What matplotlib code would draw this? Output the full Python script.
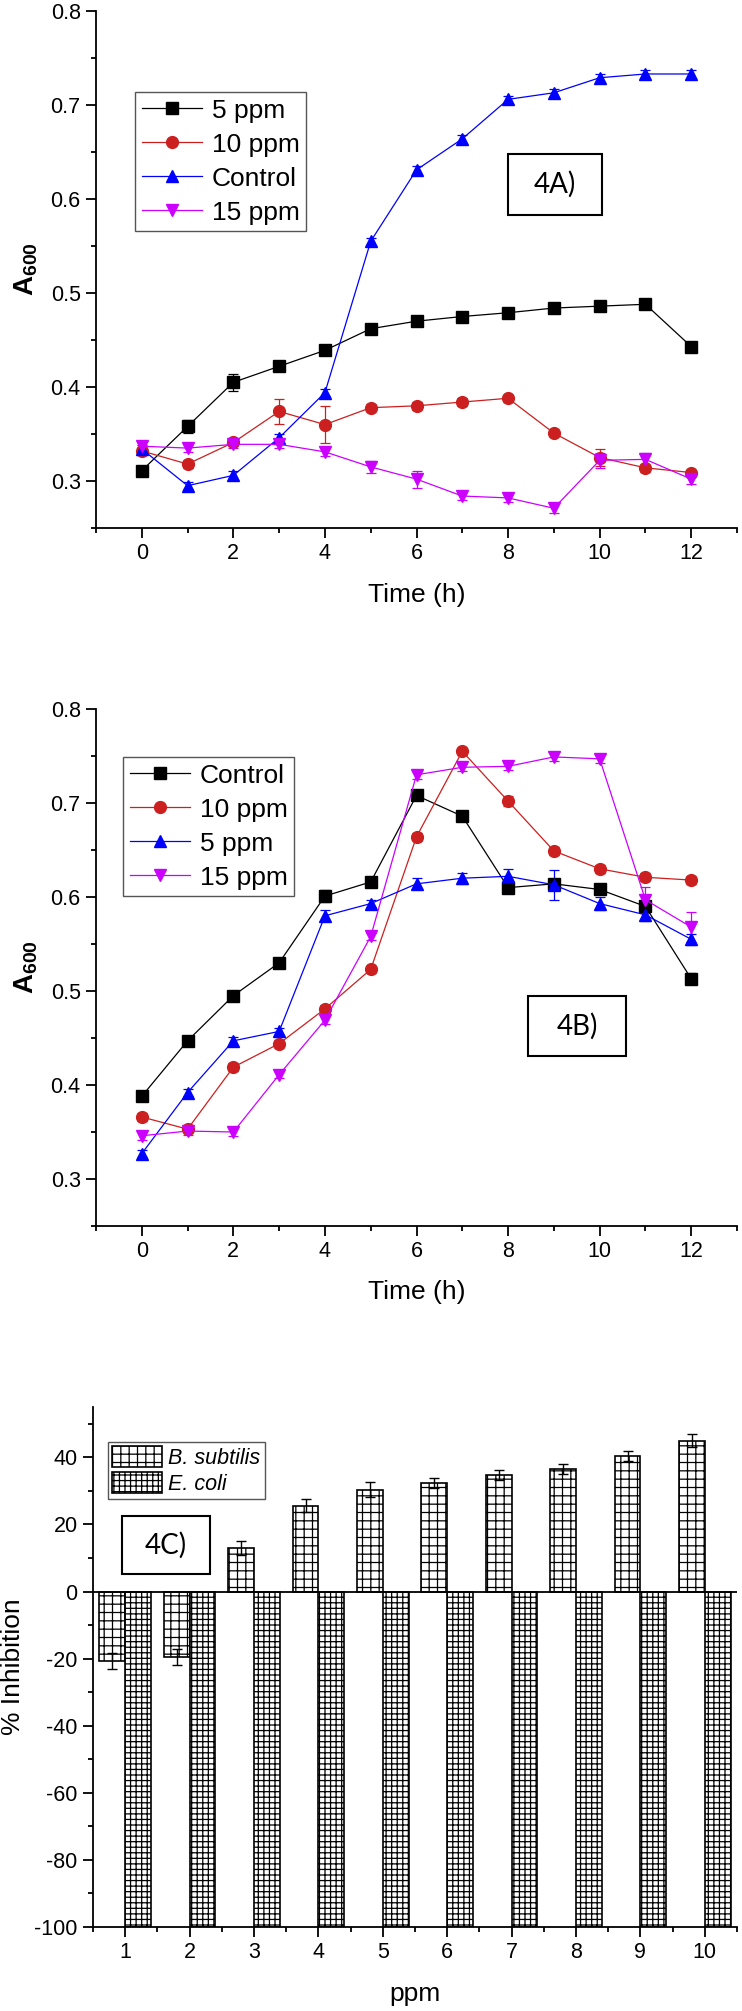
import matplotlib
matplotlib.use('Agg')
import matplotlib.pyplot as plt
from matplotlib.patches import Rectangle
from matplotlib.ticker import MultipleLocator

plt.rcParams['font.family'] = ['Liberation Sans', 'DejaVu Sans']
plt.rcParams['axes.unicode_minus'] = False
plt.rcParams['mathtext.fontset'] = 'custom'
plt.rcParams['mathtext.rm'] = 'Liberation Sans'
plt.rcParams['mathtext.bf'] = 'Liberation Sans:bold'
plt.rcParams['hatch.linewidth'] = 0.9

# ---------------- data ----------------
time_h = list(range(13))

# Panel 4A
a_labels = ['5 ppm', '10 ppm', 'Control', '15 ppm']
a_5ppm = [0.311, 0.358, 0.405, 0.422, 0.439, 0.462, 0.470, 0.475, 0.479, 0.484, 0.486, 0.488, 0.443]
a_5ppm_err = [0.004, 0.007, 0.009, 0.004, 0.004, 0.004, 0.003, 0.004, 0.004, 0.004, 0.004, 0.004, 0.005]
a_10ppm = [0.332, 0.318, 0.341, 0.374, 0.360, 0.378, 0.380, 0.384, 0.388, 0.351, 0.325, 0.314, 0.309]
a_10ppm_err = [0.004, 0.004, 0.004, 0.013, 0.020, 0.004, 0.004, 0.004, 0.004, 0.003, 0.009, 0.004, 0.003]
a_control = [0.334, 0.295, 0.306, 0.346, 0.394, 0.555, 0.631, 0.664, 0.706, 0.713, 0.729, 0.733, 0.733]
a_control_err = [0.004, 0.004, 0.005, 0.004, 0.004, 0.004, 0.004, 0.004, 0.004, 0.004, 0.004, 0.004, 0.004]
a_15ppm = [0.337, 0.335, 0.339, 0.339, 0.331, 0.315, 0.302, 0.284, 0.282, 0.271, 0.322, 0.323, 0.302]
a_15ppm_err = [0.004, 0.004, 0.004, 0.004, 0.004, 0.006, 0.009, 0.004, 0.004, 0.005, 0.008, 0.007, 0.005]

# Panel 4B
b_labels = ['Control', '10 ppm', '5 ppm', '15 ppm']
b_control = [0.388, 0.447, 0.495, 0.530, 0.601, 0.616, 0.708, 0.686, 0.610, 0.614, 0.608, 0.590, 0.513]
b_control_err = [0.004, 0.004, 0.004, 0.004, 0.006, 0.004, 0.004, 0.004, 0.004, 0.004, 0.004, 0.004, 0.006]
b_10ppm = [0.366, 0.353, 0.419, 0.444, 0.481, 0.523, 0.664, 0.755, 0.702, 0.649, 0.630, 0.621, 0.618]
b_10ppm_err = [0.004, 0.004, 0.004, 0.004, 0.004, 0.004, 0.004, 0.004, 0.005, 0.004, 0.004, 0.004, 0.004]
b_5ppm = [0.327, 0.392, 0.447, 0.457, 0.580, 0.593, 0.614, 0.620, 0.622, 0.613, 0.593, 0.581, 0.555]
b_5ppm_err = [0.004, 0.004, 0.004, 0.004, 0.006, 0.004, 0.006, 0.006, 0.008, 0.016, 0.007, 0.007, 0.006]
b_15ppm = [0.346, 0.351, 0.350, 0.411, 0.469, 0.558, 0.730, 0.738, 0.739, 0.749, 0.747, 0.597, 0.568]
b_15ppm_err = [0.004, 0.004, 0.004, 0.004, 0.004, 0.004, 0.004, 0.004, 0.004, 0.004, 0.004, 0.014, 0.016]

# Panel 4C
ppm = [1, 2, 3, 4, 5, 6, 7, 8, 9, 10]
c_labels = ['B. subtilis', 'E. coli']
c_bsubtilis = [-20.7, -19.4, 13.0, 25.6, 30.4, 32.4, 34.8, 36.6, 40.3, 45.0]
c_bsubtilis_err = [2.4, 2.4, 2.1, 2.0, 2.1, 1.5, 1.5, 1.5, 1.5, 2.0]
c_ecoli = [-100, -100, -100, -100, -100, -100, -100, -100, -100, -100]

# ---------------- styling ----------------
BLACK = '#000000'
RED = '#cc1f1f'
BLUE = '#0000ff'
MAG = '#cc00ff'

W, H = 742, 2011
fig = plt.figure(figsize=(W / 100, H / 100), dpi=100)


def ax_rect(left, right, top, bottom):
    return [left / W, 1 - bottom / H, (right - left) / W, (bottom - top) / H]


def style_axes(ax):
    for s in ['top', 'right']:
        ax.spines[s].set_visible(False)
    for s in ['left', 'bottom']:
        ax.spines[s].set_linewidth(1.3)
    ax.tick_params(which='major', direction='out', length=7, width=1.3,
                   labelsize=15.5, pad=4)
    ax.tick_params(which='minor', direction='out', length=3.6, width=1.3)


def panel_box(ax, x0, y0, w, h, text):
    ax.add_patch(Rectangle((x0, y0), w, h, transform=ax.transAxes,
                           fill=False, edgecolor='black', linewidth=1.5,
                           zorder=5, clip_on=False))
    ax.text(x0 + w / 2, y0 + h / 2, text, transform=ax.transAxes,
            ha='center', va='center', fontsize=20,
            family=['Lato', 'DejaVu Sans'], zorder=6)


def line_panel(ax, series, labels, colors, markers, legend_anchor, box, box_text, xlabel_y):
    for (vals, errs), lab, col, mk in zip(series, labels, colors, markers):
        ax.errorbar(time_h, vals, yerr=errs, color=col, marker=mk, markersize=8.5,
                    linewidth=0.9, elinewidth=0.9, capsize=3.5, capthick=0.9,
                    markeredgecolor=col, markerfacecolor=col, label=lab)
    ax.set_xlim(-1, 13)
    ax.set_ylim(0.25, 0.8)
    ax.xaxis.set_major_locator(MultipleLocator(2))
    ax.xaxis.set_minor_locator(MultipleLocator(1))
    ax.yaxis.set_major_locator(MultipleLocator(0.1))
    ax.yaxis.set_minor_locator(MultipleLocator(0.05))
    style_axes(ax)
    ax.set_xlabel('Time (h)', fontsize=19)
    ax.xaxis.label.set_va('center')
    ax.xaxis.set_label_coords(0.5, xlabel_y)
    ax.set_ylabel(r'$\mathbf{A_{600}}$', fontsize=20)
    ax.yaxis.label.set_va('center')
    ax.yaxis.set_label_coords(-0.109, 0.5)
    handles, labs = ax.get_legend_handles_labels()
    handles = [h[0] for h in handles]
    leg = ax.legend(handles, labs, loc='upper left', bbox_to_anchor=legend_anchor,
                    borderaxespad=0, fontsize=19, handlelength=2.3, handletextpad=0.35,
                    labelspacing=0.38, borderpad=0.25, fancybox=False, framealpha=1,
                    numpoints=1)
    leg.get_frame().set_edgecolor('#555555')
    leg.get_frame().set_linewidth(1.0)
    panel_box(ax, *box, box_text)


# Panel A
axA = fig.add_axes(ax_rect(96, 737, 11, 528))
line_panel(axA,
           [(a_5ppm, a_5ppm_err), (a_10ppm, a_10ppm_err),
            (a_control, a_control_err), (a_15ppm, a_15ppm_err)],
           a_labels, [BLACK, RED, BLUE, MAG], ['s', 'o', '^', 'v'],
           (0.0608, 0.8433), (0.6427, 0.6054, 0.1466, 0.118), '4A)', -0.130)

# Panel B
axB = fig.add_axes(ax_rect(96, 737, 709, 1226))
line_panel(axB,
           [(b_control, b_control_err), (b_10ppm, b_10ppm_err),
            (b_5ppm, b_5ppm_err), (b_15ppm, b_15ppm_err)],
           b_labels, [BLACK, RED, BLUE, MAG], ['s', 'o', '^', 'v'],
           (0.0421, 0.9072), (0.674, 0.3288, 0.1529, 0.116), '4B)', -0.128)

# Panel C
axC = fig.add_axes(ax_rect(93, 737, 1407, 1927))
axC.bar(ppm, c_bsubtilis, width=-0.4, align='edge', color='white', edgecolor='black',
        linewidth=1.2, hatch='++', label=c_labels[0], yerr=c_bsubtilis_err,
        error_kw=dict(ecolor='black', elinewidth=1.0, capsize=3.6, capthick=1.0))
axC.bar(ppm, c_ecoli, width=0.4, align='edge', color='white', edgecolor='black',
        linewidth=1.2, hatch='+++', label=c_labels[1])
axC.axhline(0, color='black', linewidth=1.3, zorder=3)
axC.set_xlim(0.5, 10.5)
axC.set_ylim(-100, 55)
axC.xaxis.set_major_locator(MultipleLocator(1))
axC.xaxis.set_minor_locator(MultipleLocator(1, offset=0.5))
axC.yaxis.set_major_locator(MultipleLocator(20))
axC.yaxis.set_minor_locator(MultipleLocator(10))
style_axes(axC)
axC.set_xlabel('ppm', fontsize=19)
axC.xaxis.label.set_va('center')
axC.xaxis.set_label_coords(0.5, -0.129)
axC.set_ylabel('% Inhibition', fontsize=19)
axC.yaxis.label.set_va('center')
axC.yaxis.set_label_coords(-0.124, 0.5)
legC = axC.legend(loc='upper left', bbox_to_anchor=(0.0233, 0.9327), borderaxespad=0,
                  prop=dict(size=15.5, style='italic'), handlelength=2.3, handleheight=1.1,
                  handletextpad=0.3, labelspacing=0.16, borderpad=0.2, fancybox=False,
                  framealpha=1)
legC.get_frame().set_edgecolor('#555555')
legC.get_frame().set_linewidth(1.0)
panel_box(axC, 0.045, 0.6788, 0.1366, 0.1115, '4C)')

fig.savefig('out.png', dpi=100)
